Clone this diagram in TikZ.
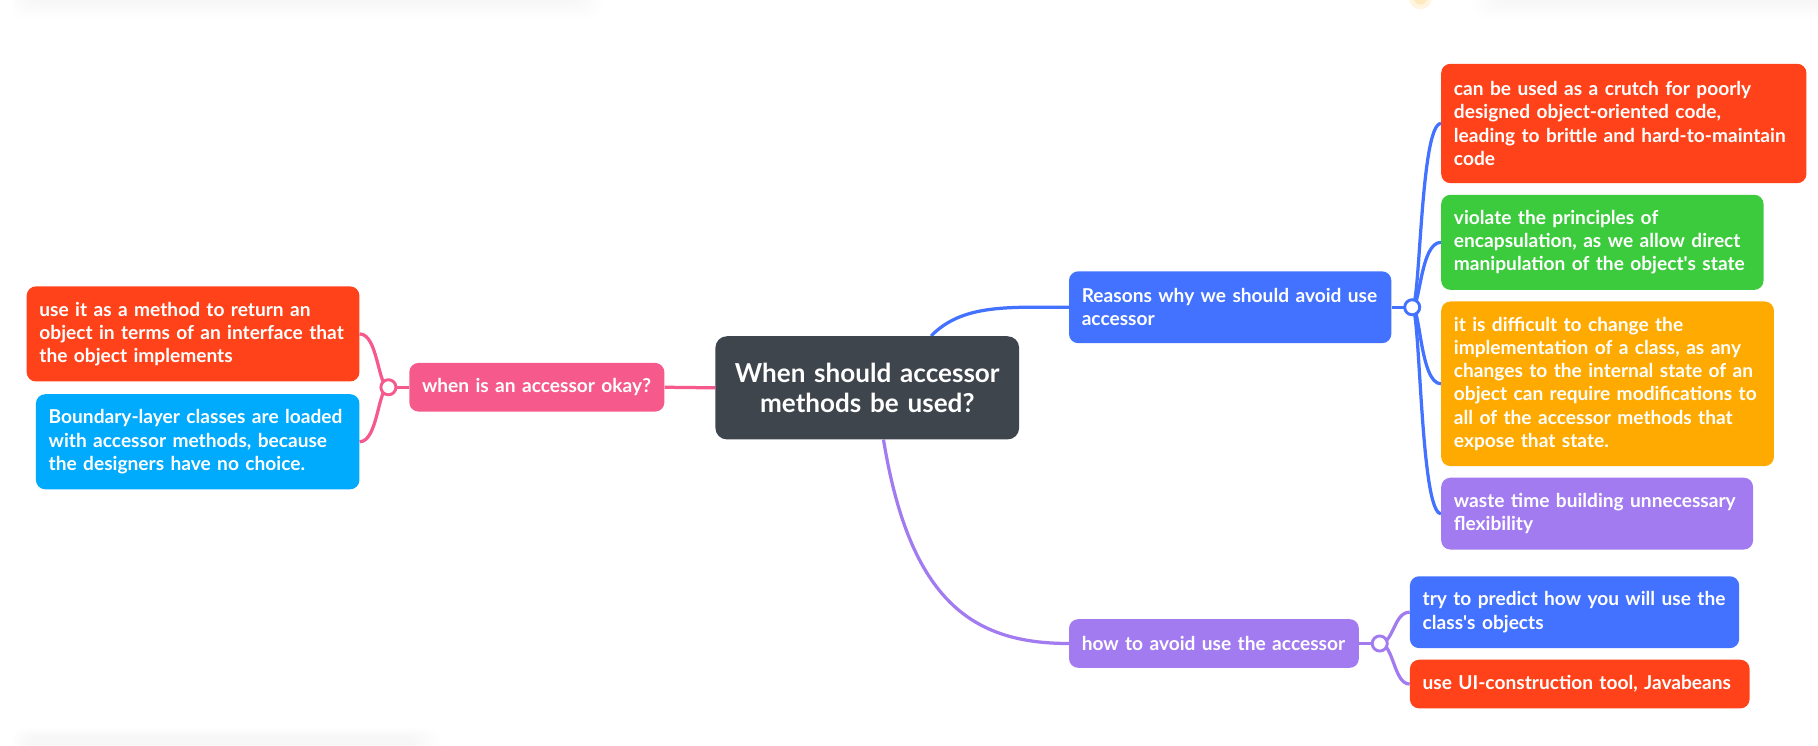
\documentclass[tikz,border=0pt]{standalone}
\usepackage{fontspec}
\setmainfont{Lato}
\usetikzlibrary{backgrounds}
\definecolor{cDark}{HTML}{3E454C}
\definecolor{cPink}{HTML}{F65A8C}
\definecolor{cRed}{HTML}{FF421A}
\definecolor{cSky}{HTML}{00AAFD}
\definecolor{cBlue}{HTML}{4272FF}
\definecolor{cGreen}{HTML}{3DCB3E}
\definecolor{cYellow}{HTML}{FFAA00}
\definecolor{cPurple}{HTML}{A27BF1}
\begin{document}
\begin{tikzpicture}[x=1pt,y=-1pt,
  box/.style={rounded corners=8pt, text=white, align=left, inner xsep=11pt, inner ysep=0pt,
    font=\fontsize{16.5}{20}\selectfont\bfseries},
  hub/.style={circle, draw=#1, fill=white, line width=2.5pt, minimum size=13pt, inner sep=0pt},
  link/.style={draw=#1, line width=2.8pt},
]
\useasboundingbox (0,0) rectangle (1568,643.4);

% nodes
\node[box, fill=cDark, rounded corners=10pt, align=center, text width=240pt, minimum width=262pt, minimum height=89pt,
  font=\fontsize{22.5}{26}\selectfont\bfseries] (c) at (748,334.5) {When should accessor\\methods be used?};

\node[box, fill=cPink, text width=198pt, minimum height=42pt] (ok) at (463,334) {when is an accessor okay?};
\node[box, fill=cRed, text width=265pt, minimum height=82pt] (l1) at (166.5,288) {use it as a method to return an\\object in terms of an interface that\\the object implements};
\node[box, fill=cSky, text width=257pt, minimum height=82pt] (l2) at (170.5,381) {Boundary-layer classes are loaded\\with accessor methods, because\\the designers have no choice.};
\node[hub=cPink] (hl) at (335,334) {};

\node[box, fill=cBlue, text width=256pt, minimum height=62pt] (rs) at (1061,265) {Reasons why we should avoid use\\accessor};
\node[box, fill=cRed, text width=293pt, minimum height=103pt] (r1) at (1400.5,106.5) {can be used as a crutch for poorly\\designed object-oriented code,\\leading to brittle and hard-to-maintain\\code};
\node[box, fill=cGreen, text width=256pt, minimum height=82pt] (r2) at (1382,209) {violate the principles of\\encapsulation, as we allow direct\\manipulation of the object\textquotesingle s state};
\node[box, fill=cYellow, text width=265pt, minimum height=142pt] (r3) at (1386.5,331) {it is difficult to change the\\implementation of a class, as any\\changes to the internal state of an\\object can require modifications to\\all of the accessor methods that\\expose that state.};
\node[box, fill=cPurple, text width=247pt, minimum height=62pt] (r4) at (1377.5,443) {waste time building unnecessary\\flexibility};
\node[hub=cBlue] (hr) at (1218,265) {};

\node[box, fill=cPurple, text width=228pt, minimum height=42pt] (hw) at (1047,555) {how to avoid use the accessor};
\node[box, fill=cBlue, text width=262pt, minimum height=62pt] (p1) at (1358,528) {try to predict how you will use the\\class\textquotesingle s objects};
\node[box, fill=cRed, text width=271pt, minimum height=42pt] (p2) at (1362.5,590) {use UI-construction tool, Javabeans};
\node[hub=cPurple] (hp) at (1190,555) {};

\begin{scope}[on background layer]
% faint shadows at the edges
\foreach \i in {0,...,7}{
  \fill[black, opacity=0.005, rounded corners=10pt] (10+\i*2,-20) rectangle (520-\i*3,16-\i*2);
  \fill[black, opacity=0.005, rounded corners=10pt] (1270+\i*3,-20) rectangle (1590,16-\i*2);
  \fill[black, opacity=0.002, rounded corners=10pt] (10+\i*2,628+\i) rectangle (380-\i*3,660);
}
\fill[cYellow, opacity=0.12] (1225,-2) circle (10);
\fill[cYellow, opacity=0.15] (1225,-2) circle (6);

% connectors
\path[link=cPink] (c.west) -- (ok.east);
\path[link=cPink] (hl.center) -- (ok.west);
\path[link=cPink] (hl.center) .. controls (326,334) and (326,288) .. (l1.east);
\path[link=cPink] (hl.center) .. controls (326,334) and (326,381) .. (l2.east);

\path[link=cBlue] ([xshift=55pt]c.north) .. controls (830,262) and (870,265) .. (rs.west);
\path[link=cBlue] (rs.east) -- (hr.center);
\foreach \t in {r1,r2,r3,r4}{
  \path[link=cBlue] (hr.center) .. controls (1225,265) and (1225,0 |- \t.west) .. (\t.west);
}

\path[link=cPurple] ([xshift=14pt]c.south) .. controls (785,520) and (840,555) .. (hw.west);
\path[link=cPurple] (hw.east) -- (hp.center);
\foreach \t in {p1,p2}{
  \path[link=cPurple] (hp.center) .. controls (1202,555) and (1202,0 |- \t.west) .. (\t.west);
}
\end{scope}
\end{tikzpicture}
\end{document}
